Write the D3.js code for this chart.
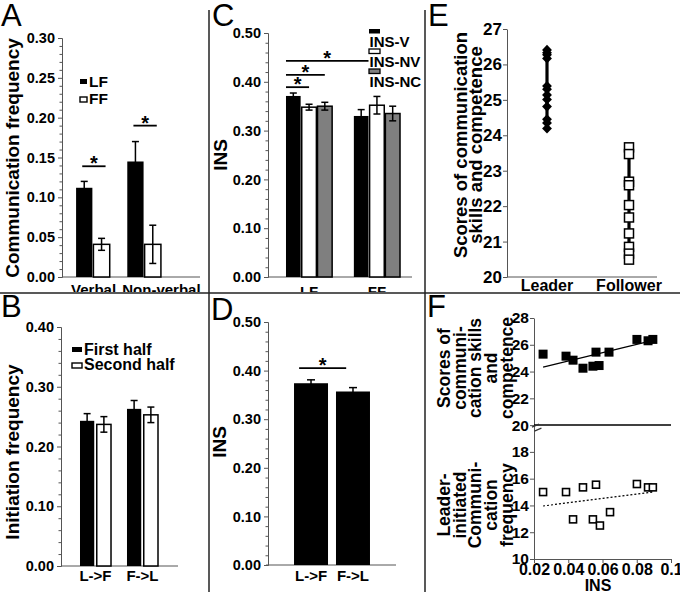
<!DOCTYPE html>
<html><head><meta charset="utf-8">
<script src="https://cdn.jsdelivr.net/npm/d3@7"></script>
<style>body{margin:0;background:#fff}svg{display:block}</style>
</head><body>
<script>
// ---------------- DATA ----------------
// Panel A
const aGroups = ["Verbal", "Non-verbal"];
const aSeries = ["LF", "FF"];
const aLF = [0.112, 0.145];
const aLFerr = [0.008, 0.025];
const aFF = [0.041, 0.041];
const aFFerr = [0.0075, 0.024];
const aTicks = [0, 0.05, 0.10, 0.15, 0.20, 0.25, 0.30];
// Panel B
const bGroups = ["L->F", "F->L"];
const bSeries = ["First half", "Second half"];
const bFirst = [0.243, 0.263];
const bFirstErr = [0.012, 0.014];
const bSecond = [0.237, 0.253];
const bSecondErr = [0.013, 0.013];
const bTicks = [0, 0.1, 0.2, 0.3, 0.4];
// Panel C
const cGroups = ["LF", "FF"];
const cSeries = ["INS-V", "INS-NV", "INS-NC"];
const cV = [0.371, 0.330];
const cVerr = [0.006, 0.013];
const cNV = [0.348, 0.352];
const cNVerr = [0.006, 0.018];
const cNC = [0.350, 0.335];
const cNCerr = [0.008, 0.015];
const cTicks = [0, 0.1, 0.2, 0.3, 0.4, 0.5];
// Panel D
const dGroups = ["L->F", "F->L"];
const dVals = [0.374, 0.357];
const dErr = [0.007, 0.008];
const dTicks = [0, 0.1, 0.2, 0.3, 0.4, 0.5];
// Panel E
const eCats = ["Leader", "Follower"];
const eLeader = [26.41, 26.33, 26.27, 26.17, 25.39, 25.30, 25.14, 25.01, 24.81, 24.45, 24.35, 24.19];
const eFollower = [23.66, 23.47, 22.69, 22.59, 22.03, 21.68, 21.23, 20.85, 20.66, 20.49];
const eTicks = [20, 21, 22, 23, 24, 25, 26, 27];
// Panel F
const fINS = [0.0253, 0.0387, 0.0428, 0.0486, 0.0544, 0.0562, 0.0580, 0.0638, 0.0801, 0.0866, 0.0894];
const fScores = [25.30, 25.15, 24.85, 24.25, 24.40, 25.45, 24.45, 25.45, 26.40, 26.30, 26.40];
const fINS2 = [0.0253, 0.0387, 0.0428, 0.0486, 0.0544, 0.0562, 0.0585, 0.0644, 0.0801, 0.0866, 0.0894];
const fFreq = [15.00, 15.00, 12.96, 15.35, 12.96, 15.55, 12.50, 13.50, 15.60, 15.35, 15.35];
const fScoresFit = [[0.0253, 24.33], [0.0878, 26.27]];
const fFreqFit = [[0.0253, 13.96], [0.0894, 15.00]];
const fXTicks = [0.02, 0.04, 0.06, 0.08, 0.1];
const fYTicks = [10, 12, 14, 16, 18, 20, 22, 24, 26, 28];

// ---------------- DRAW ----------------
const W = 680, H = 596;
const FONT = "'Liberation Sans', Arial, Helvetica, sans-serif";
const AX = "#555";
const svg = d3.select("body").append("svg").attr("width", W).attr("height", H)
  .style("font-family", FONT);
svg.append("defs").append("clipPath").attr("id", "topclip")
  .append("rect").attr("x", 0).attr("y", 0).attr("width", W).attr("height", 292);
const topG = svg.append("g").attr("clip-path", "url(#topclip)");
const botG = svg.append("g");

function styleAxis(sel, fs) {
  sel.select(".domain").attr("stroke", AX).attr("stroke-width", 1);
  sel.selectAll(".tick line").attr("stroke", AX);
  sel.selectAll(".tick text").attr("fill", "#000").attr("font-weight", "bold")
    .attr("font-size", fs).attr("font-family", FONT);
}
function leftAxis(g, y, x0, majors, minors, fmt, fs, pad) {
  if (minors) {
    const m = g.append("g").attr("transform", `translate(${x0},0)`)
      .call(d3.axisLeft(y).tickValues(minors).tickSize(2.5).tickSizeOuter(0).tickFormat(""));
    styleAxis(m, fs);
  }
  const a = g.append("g").attr("transform", `translate(${x0},0)`)
    .call(d3.axisLeft(y).tickValues(majors).tickSize(4).tickSizeOuter(0).tickPadding(pad).tickFormat(fmt));
  styleAxis(a, fs);
  return a;
}
function hline(g, x1, x2, y, color, w) {
  g.append("line").attr("x1", x1).attr("x2", x2).attr("y1", y).attr("y2", y)
    .attr("stroke", color || AX).attr("stroke-width", w || 1);
}
function errBar(g, cx, y, m, e, cap) {
  const p = g.append("g").attr("stroke", "#000").attr("stroke-width", 1.5);
  p.append("line").attr("x1", cx).attr("x2", cx).attr("y1", y(m - e)).attr("y2", y(m + e));
  p.append("line").attr("x1", cx - cap / 2).attr("x2", cx + cap / 2).attr("y1", y(m + e)).attr("y2", y(m + e));
  p.append("line").attr("x1", cx - cap / 2).attr("x2", cx + cap / 2).attr("y1", y(m - e)).attr("y2", y(m - e));
}
function rotLabel(g, x, y, lines, fs, lh) {
  const t = g.append("text").attr("transform", `translate(${x},${y}) rotate(-90)`)
    .attr("text-anchor", "middle").attr("font-weight", "bold").attr("font-size", fs);
  const n = lines.length;
  lines.forEach((s, i) => {
    t.append("tspan").attr("x", 0).attr("y", (i - (n - 1)) * lh).text(s);
  });
}
function star(g, x1, x2, yy) {
  hline(g, x1, x2, yy, "#000", 1.8);
  g.append("text").attr("x", (x1 + x2) / 2).attr("y", yy + 4).attr("text-anchor", "middle")
    .attr("font-size", 20).attr("font-weight", "bold").text("*");
}
function bars(g, xG, xS, y, groups, series, vals, errs, fills, cap) {
  series.forEach((s, si) => {
    groups.forEach((gname, gi) => {
      const x = xG(gname) + xS(s);
      const w = xS.bandwidth();
      const v = vals[si][gi];
      g.append("rect").attr("x", x).attr("y", y(v)).attr("width", w).attr("height", y(0) - y(v))
        .attr("fill", fills[si]).attr("stroke", "#000").attr("stroke-width", fills[si] === "#000" ? 0 : 1.5);
      errBar(g, x + w / 2, y, v, errs[si][gi], cap);
    });
  });
}
function panelLetter(g, x, y, s) {
  g.append("text").attr("x", x).attr("y", y).attr("font-size", 31).attr("fill", "#000").text(s);
}
const fmt2 = d3.format(".2f");

// ---- Panel A ----
{
  const g = topG.append("g");
  const y = d3.scaleLinear([0, 0.3], [277, 38]);
  const xG = d3.scaleBand(aGroups, [62, 175]).paddingInner(0.343).paddingOuter(0.275);
  const xS = d3.scaleBand(aSeries, [0, xG.bandwidth()]).paddingInner(0.06);
  const minors = d3.range(0, 31).map(i => i / 100).filter(v => Math.round(v * 100) % 5 !== 0);
  leftAxis(g, y, 62, aTicks, minors, fmt2, 14.5, 3);
  hline(g, 62, 200, y(0));
  bars(g, xG, xS, y, aGroups, aSeries, [aLF, aFF], [aLFerr, aFFerr], ["#000", "#fff"], 7);
  aGroups.forEach((gname, i) => {
    g.append("text").attr("x", xG(gname) - 5).attr("y", 295).attr("font-size", 15)
      .attr("font-weight", "bold").text(gname);
  });
  const sigA = [0.139, 0.190];
  aGroups.forEach((gname, i) => {
    const x1 = xG(gname) + xS("LF") + xS.bandwidth() / 2 - 2;
    const x2 = xG(gname) + xS("FF") + xS.bandwidth() / 2 + 4;
    star(g, x1, x2, y(sigA[i]));
  });
  aSeries.forEach((s, i) => {
    g.append("rect").attr("x", 80).attr("y", 79 + i * 18).attr("width", 7).attr("height", 5)
      .attr("fill", i === 0 ? "#000" : "#fff").attr("stroke", "#000").attr("stroke-width", i === 0 ? 0 : 1.4);
    g.append("text").attr("x", 89).attr("y", 87 + i * 17).attr("font-size", 15.5)
      .attr("font-weight", "bold").text(s);
  });
  rotLabel(g, 19, 158, ["Communication frequency"], 19, 18);
  panelLetter(g, 1, 26, "A");
}

// ---- Panel B ----
{
  const g = botG.append("g");
  const y = d3.scaleLinear([0, 0.4], [566, 327]);
  const xG = d3.scaleBand(bGroups, [62, 176]).paddingInner(0.34).paddingOuter(0.383);
  const xS = d3.scaleBand(bSeries, [0, xG.bandwidth()]).paddingInner(0.15);
  const minors = d3.range(0, 21).map(i => i / 50).filter((v, i) => i % 5 !== 0);
  leftAxis(g, y, 61, bTicks, minors, fmt2, 14.5, 3);
  hline(g, 61, 178, y(0));
  bars(g, xG, xS, y, bGroups, bSeries, [bFirst, bSecond], [bFirstErr, bSecondErr], ["#000", "#fff"], 7);
  bGroups.forEach(gname => {
    g.append("text").attr("x", xG(gname) + xG.bandwidth() / 2).attr("y", 581).attr("text-anchor", "middle")
      .attr("font-size", 15).attr("font-weight", "bold").text(gname);
  });
  bSeries.forEach((s, i) => {
    g.append("rect").attr("x", 72).attr("y", 347 + i * 16).attr("width", 10).attr("height", 5)
      .attr("fill", i === 0 ? "#000" : "#fff").attr("stroke", "#000").attr("stroke-width", i === 0 ? 0 : 1.4);
    g.append("text").attr("x", 84).attr("y", 355 + i * 15).attr("font-size", 16)
      .attr("font-weight", "bold").text(s);
  });
  rotLabel(g, 19, 452, ["Initiation frequency"], 19, 18);
  panelLetter(g, 1, 317, "B");
}

// ---- Panel C ----
{
  const g = topG.append("g");
  const y = d3.scaleLinear([0, 0.5], [277, 33]);
  const xG = d3.scaleBand(cGroups, [268, 418]).paddingInner(0.32).paddingOuter(0.265);
  const xS = d3.scaleBand(cSeries, [0, xG.bandwidth()]).paddingInner(0.07);
  const minors = d3.range(0, 26).map(i => i / 50).filter((v, i) => i % 5 !== 0);
  leftAxis(g, y, 268, cTicks, minors, fmt2, 14.5, 3);
  hline(g, 268, 412, y(0));
  const fills = ["#000", "#fff", "#7f7f7f"];
  bars(g, xG, xS, y, cGroups, cSeries, [cV, cNV, cNC], [cVerr, cNVerr, cNCerr], fills, 7);
  cGroups.forEach(gname => {
    g.append("text").attr("x", xG(gname) + xG.bandwidth() / 2).attr("y", 297).attr("text-anchor", "middle")
      .attr("font-size", 15).attr("font-weight", "bold").text(gname);
  });
  const x0 = xG("LF") + xS("INS-V");
  const bw = xS.bandwidth();
  star(g, x0, xG("LF") + xS("INS-NV") + bw / 2, y(0.389));
  star(g, x0, xG("LF") + xS("INS-NC") + bw / 2, y(0.414));
  star(g, x0, xG("FF") + xS("INS-V") + bw, y(0.443));
  cSeries.forEach((s, i) => {
    g.append("rect").attr("x", 369).attr("y", 29 + i * 20).attr("width", 11).attr("height", 4.5)
      .attr("fill", fills[i]).attr("stroke", "#000").attr("stroke-width", i === 0 ? 0 : 1.3);
    g.append("text").attr("x", 369.5).attr("y", 47 + i * 20).attr("font-size", 15)
      .attr("font-weight", "bold").text(s);
  });
  rotLabel(g, 227, 155, ["INS"], 19, 18);
  panelLetter(g, 212, 26, "C");
}

// ---- Panel D ----
{
  const g = botG.append("g");
  const y = d3.scaleLinear([0, 0.5], [565, 322]);
  const xG = d3.scaleBand(dGroups, [268, 396]).paddingInner(0.19).paddingOuter(0.62);
  const minors = d3.range(0, 26).map(i => i / 50).filter((v, i) => i % 5 !== 0);
  leftAxis(g, y, 268, dTicks, minors, fmt2, 14.5, 3);
  hline(g, 266, 396, y(0));
  dGroups.forEach((gname, i) => {
    const x = xG(gname), w = xG.bandwidth();
    g.append("rect").attr("x", x).attr("y", y(dVals[i])).attr("width", w)
      .attr("height", y(0) - y(dVals[i])).attr("fill", "#000");
    errBar(g, x + w / 2, y, dVals[i], dErr[i], 8);
    g.append("text").attr("x", x + w / 2).attr("y", 581).attr("text-anchor", "middle")
      .attr("font-size", 15).attr("font-weight", "bold").text(gname);
  });
  star(g, xG("L->F") + xG.bandwidth() * 0.15, xG("F->L") + xG.bandwidth() * 0.3, y(0.405));
  rotLabel(g, 226, 442, ["INS"], 19, 18);
  panelLetter(g, 211, 320, "D");
}

// ---- Panel E ----
{
  const g = topG.append("g");
  const y = d3.scaleLinear([20, 27], [277, 29]);
  const x = d3.scalePoint(eCats, [547, 629]);
  leftAxis(g, y, 507, eTicks, null, d3.format("d"), 17, 1);
  hline(g, 507, 657, y(20));
  const groups = [eLeader, eFollower];
  groups.forEach((arr, i) => {
    const cx = x(eCats[i]);
    g.append("line").attr("x1", cx).attr("x2", cx).attr("y1", y(d3.min(arr))).attr("y2", y(d3.max(arr)))
      .attr("stroke", "#000").attr("stroke-width", 3.2);
  });
  eLeader.forEach(v => {
    g.append("path").attr("d", d3.symbol(d3.symbolDiamond, 46)())
      .attr("transform", `translate(${x("Leader")},${y(v)}) scale(1.35,0.8)`).attr("fill", "#000");
  });
  eFollower.forEach(v => {
    g.append("rect").attr("x", x("Follower") - 4.5).attr("y", y(v) - 4.5).attr("width", 9).attr("height", 9)
      .attr("fill", "#fff").attr("stroke", "#000").attr("stroke-width", 1.5);
  });
  eCats.forEach(c => {
    g.append("text").attr("x", x(c)).attr("y", 291).attr("text-anchor", "middle")
      .attr("font-size", 16).attr("font-weight", "bold").text(c);
  });
  rotLabel(g, 482, 145, ["Scores of communication", "skills and competence"], 18.5, 15.5);
  panelLetter(g, 428, 26, "E");
}

// ---- Panel F ----
{
  const g = botG.append("g");
  const x = d3.scaleLinear([0.02, 0.1], [534, 671]);
  const y = d3.scaleLinear([10, 28], [559, 318]);
  leftAxis(g, y, 534, fYTicks, null, d3.format("d"), 15.5, 1);
  const xa = g.append("g").attr("transform", `translate(0,${y(10)})`)
    .call(d3.axisBottom(x).tickValues(fXTicks).tickSize(4).tickSizeOuter(0).tickPadding(1)
      .tickFormat(d => d === 0.1 ? "0.1" : fmt2(d)));
  styleAxis(xa, 16);
  hline(g, 534, 671, y(20), "#000", 1.5);
  [0, 4].forEach(o => {
    g.append("line").attr("x1", 532 + o * 0.6).attr("x2", 539 + o * 0.6).attr("y1", y(20) + 2 + o).attr("y2", y(20) - 1 + o)
      .attr("stroke", "#333").attr("stroke-width", 1.2);
  });
  const line = d3.line().x(d => x(d[0])).y(d => y(d[1]));
  g.append("path").attr("d", line(fScoresFit)).attr("stroke", "#000").attr("stroke-width", 1.2).attr("fill", "none");
  g.append("path").attr("d", line(fFreqFit)).attr("stroke", "#000").attr("stroke-width", 1.2)
    .attr("stroke-dasharray", "2,2").attr("fill", "none");
  fINS.forEach((v, i) => {
    g.append("rect").attr("x", x(v) - 4.5).attr("y", y(fScores[i]) - 4.5).attr("width", 9).attr("height", 9).attr("fill", "#000");
  });
  fINS2.forEach((v, i) => {
    g.append("rect").attr("x", x(v) - 3.5).attr("y", y(fFreq[i]) - 3.5).attr("width", 7).attr("height", 7)
      .attr("fill", "#fff").attr("stroke", "#000").attr("stroke-width", 1.6);
  });
  g.append("text").attr("x", 598).attr("y", 591).attr("text-anchor", "middle")
    .attr("font-size", 16).attr("font-weight", "bold").text("INS");
  rotLabel(g, 513, 368, ["Scores of", "communi-", "cation skills", "and", "competence"], 17.5, 15.8);
  rotLabel(g, 513, 505, ["Leader-", "initiated", "Communi-", "cation", "frequency"], 17.5, 15.8);
  panelLetter(g, 427, 317, "F");
}

// ---- dividers ----
const dv = svg.append("g").attr("stroke", "#222").attr("stroke-width", 1.5);
dv.append("line").attr("x1", 209).attr("x2", 209).attr("y1", 10).attr("y2", 592);
dv.append("line").attr("x1", 425).attr("x2", 425).attr("y1", 10).attr("y2", 592);
dv.append("line").attr("x1", 0).attr("x2", 680).attr("y1", 293).attr("y2", 293);
</script>
</body></html>
